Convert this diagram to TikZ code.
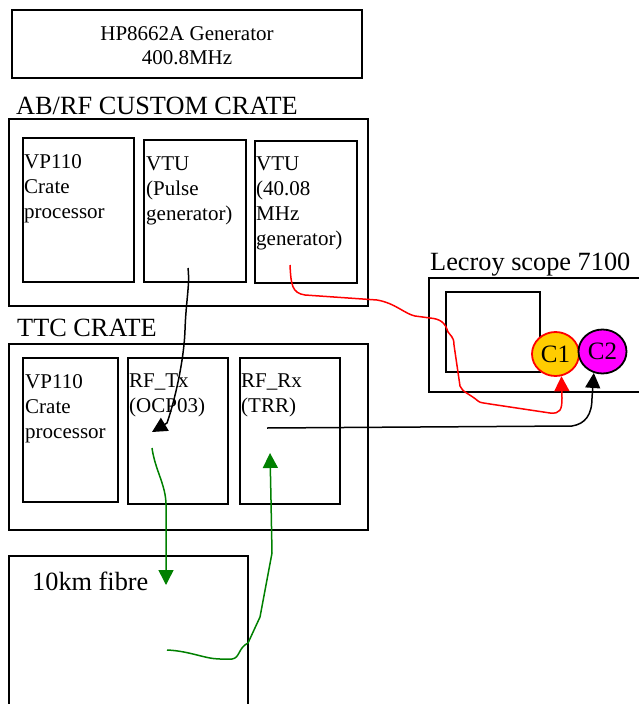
\documentclass[tikz,border=0pt]{standalone}
\usepackage{fontspec}
\setmainfont{Liberation Serif}
\usetikzlibrary{arrows.meta,shapes.geometric}
\definecolor{cgreen}{RGB}{0,128,0}
\definecolor{cyellow}{RGB}{255,204,0}
\definecolor{cmagenta}{RGB}{255,0,255}
\tikzset{
  box/.style={draw=black,line width=2.1pt},
  bigtxt/.style={inner sep=0pt,font=\fontsize{26.3}{31}\selectfont},
  smalltxt/.style={inner sep=0pt,align=left,anchor=north west,font=\fontsize{21}{25}\selectfont},
  wire/.style={line width=1.5pt},
  tipA/.style={-{Triangle[length=15pt,width=15pt]}},
}
\begin{document}
\begin{tikzpicture}[x=1pt,y=-1pt]
\useasboundingbox (0,0) rectangle (638,704);
% HP generator
\node[box,minimum width=350pt,minimum height=68pt,inner sep=0pt] (hp) at (187,44) {};
\node[inner sep=0pt,anchor=north,align=center,font=\fontsize{21}{24}\selectfont] (hptxt) at (187,26.5) {HP8662A Generator\\400.8MHz};
% AB/RF crate
\node[bigtxt,anchor=base west] (abrf) at (16,114) {AB/RF CUSTOM CRATE};
\draw[box] (9,119) rectangle (368,306);
\draw[box] (23,138) rectangle (134,282);
\draw[box] (144,140) rectangle (246,282);
\draw[box] (255,141) rectangle (357,283);
\node[smalltxt] (vp1) at (24,154) {VP110\\Crate\\processor};
\node[smalltxt] (vtu1) at (146,157) {VTU\\(Pulse\\generator)};
\node[smalltxt] (vtu2) at (256,157) {VTU\\(40.08\\MHz\\generator)};
% TTC crate
\node[bigtxt,anchor=base west] (ttc) at (17,336) {TTC CRATE};
\draw[box] (9,344) rectangle (368,530);
\draw[box] (23,358) rectangle (118,502);
\draw[box] (128,358) rectangle (228,504);
\draw[box] (240,358) rectangle (340,504);
\node[smalltxt] (vp2) at (25,374) {VP110\\Crate\\processor};
\node[smalltxt] (rftx) at (129,374) {RF\_Tx\\(OCP03)};
\node[smalltxt] (rfrx) at (241,374) {RF\_Rx\\(TRR)};
% fibre
\draw[box] (9,710) -- (9,556) -- (248,556) -- (248,710);
\node[bigtxt,anchor=base west] (fibre) at (32,590) {10km fibre};
% scope
\node[bigtxt,anchor=base west] (scope) at (430,270) {Lecroy scope 7100};
\draw[box] (429,278) rectangle (645,392);
\draw[box] (446,292) rectangle (540,372);
\node[ellipse,draw=red,line width=1.8pt,fill=cyellow,minimum width=47pt,minimum height=44pt,inner sep=0pt,font=\fontsize{25}{30}\selectfont] (c1) at (555.5,354) {C1};
\node[ellipse,draw=black,line width=1.8pt,fill=cmagenta,minimum width=48pt,minimum height=44pt,inner sep=0pt,font=\fontsize{25}{30}\selectfont] (c2) at (602.5,351.5) {C2};
% coordinates
\coordinate (redstart) at (290,265);
\coordinate (pulsestart) at (188,268);
\coordinate (txtip) at (152,432);
\coordinate (rxstart) at (267,428);
\coordinate (txstart) at (152,448);
\coordinate (fibretip) at (166,585);
\coordinate (fibrestart) at (167,650);
\coordinate (rxtip) at (270,453);
% connectors
\draw[wire,red,tipA] (redstart) .. controls (291,285) and (292,293) .. (305,295) -- (377,300)
  .. controls (395,303) and (405,314) .. (415,316) -- (430,318)
  .. controls (440,319) and (445,322) .. (448,332)
  .. controls (450,336) and (454,336) .. (454,345) -- (460,386)
  .. controls (462,392) and (470,394) .. (478,401)
  .. controls (480,403) and (485,403) .. (490,404) -- (550,413)
  .. controls (560,414) and (562,410) .. (562,398) -- (c1.-75);
\draw[wire,black,tipA] (rxstart) -- (572,426) .. controls (585,424) and (592,415) .. (592,398) -- (c2.-112);
\draw[wire,black,tipA] (pulsestart) .. controls (190,285) and (186,300) .. (185,330)
  .. controls (184,360) and (175,400) .. (167,423) -- (txtip);
\draw[wire,cgreen,tipA] (txstart) .. controls (155,470) and (166,485) .. (166,505) -- (fibretip);
\draw[wire,cgreen,tipA] (fibrestart) .. controls (190,651) and (205,659) .. (220,659) -- (232,659)
  .. controls (240,658) and (238,648) .. (248,643) -- (260,617) -- (272,553) -- (271,500) -- (rxtip);
\end{tikzpicture}
\end{document}
